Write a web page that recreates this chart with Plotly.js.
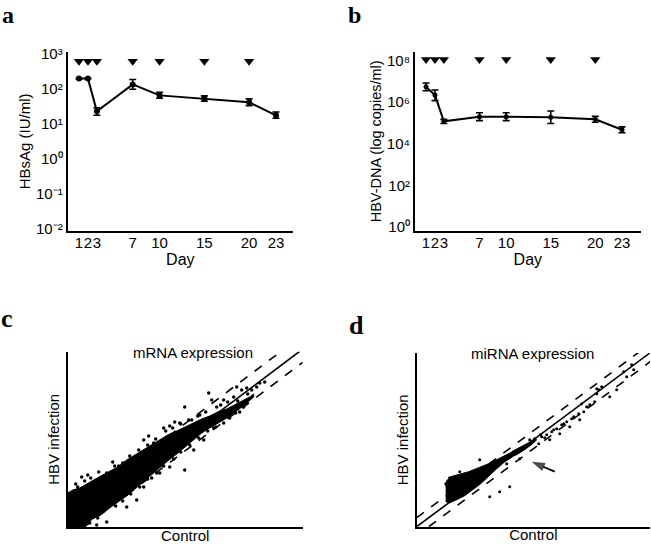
<!DOCTYPE html>
<html>
<head>
<meta charset="utf-8">
<script src="https://cdn.plot.ly/plotly-3.0.1.min.js"></script>
<style>
  html, body { margin: 0; padding: 0; background: #fff; }
  #chart { width: 651px; height: 546px; }
</style>
</head>
<body>
<div id="chart"></div>
<script>
// ---------------- DATA ----------------
const days = [1, 2, 3, 7, 10, 15, 20, 23];
const dayTickLabels = ["1", "2", "3", "7", "10", "15", "20", "23"];

// Panel a: HBsAg (IU/ml)
const hbsag = [190, 190, 22, 130, 63, 51, 40, 17];
const hbsagErrPlus = [0, 0, 6, 50, 14, 10, 10, 4];
const hbsagErrMinus = [0, 0, 5, 36, 11, 8, 8, 3];

// Panel b: HBV-DNA (copies/ml)
const hbvDna = [5.5e6, 2.2e6, 1.2e5, 2.0e5, 2.0e5, 1.9e5, 1.5e5, 4.7e4];
const hbvDnaErrPlus = [3.0e6, 1.7e6, 3.0e4, 1.1e5, 1.1e5, 1.9e5, 5.7e4, 1.8e4];
const hbvDnaErrMinus = [1.9e6, 1.0e6, 2.5e4, 0.7e5, 0.7e5, 0.95e5, 4.2e4, 1.3e4];

// Treatment markers (inverted triangles)
const treatmentDays = [1, 2, 3, 7, 10, 15, 20];
const treatmentLevelA = [600, 600, 600, 600, 600, 600, 600];
const treatmentLevelB = [1.15e8, 1.15e8, 1.15e8, 1.15e8, 1.15e8, 1.15e8, 1.15e8];

// Y tick labels
const tickValsA = [0.01, 0.1, 1, 10, 100, 1000];
const tickTextA = ["10⁻²", "10⁻¹", "10⁰", "10¹", "10²", "10³"];
const tickValsB = [1, 100, 1e4, 1e6, 1e8];
const tickTextB = ["10⁰", "10²", "10⁴", "10⁶", "10⁸"];

// Panel c: mRNA expression (arbitrary units, control vs HBV infection)
const mrnaBandX = [0, 5, 12, 20, 26, 35, 42, 50, 59, 67, 76, 84, 92, 100, 109, 117, 126, 134, 142, 150, 159, 167, 175, 182, 186,
                   186, 178, 172, 165, 159, 150, 142, 134, 126, 117, 109, 100, 92, 84, 76, 67, 59, 50, 42, 34, 25, 18, 15, 0];
const mrnaBandY = [34, 37, 39, 44, 47, 52, 56, 60, 67, 72, 77, 82, 87, 92, 96, 100, 104, 108, 111, 115, 118, 122, 126, 130, 133,
                   130, 123, 118, 113, 109, 104, 99, 94, 87, 80, 73, 66, 59, 52, 45, 38, 31, 25, 19, 13, 8, 3, 0, 0];
const mrnaPointsX = [4, 14, 39, 51, 64, 71, 76, 81, 86, 96, 102, 107, 117, 124, 132, 141, 144, 149, 156, 166, 169, 174, 179, 184, 189, 192, 197,
                     39, 29, 59, 69, 76, 84, 92, 102, 117, 126, 136, 146, 156, 162, 172, 8, 20, 45, 112, 160,
                     10, 17, 23, 31, 47, 55, 62, 80, 88, 98, 105, 113, 121, 130, 138, 153, 170, 180,
                     22, 30, 48, 55, 63, 72, 80, 89, 96, 106, 113, 122, 131, 140, 148, 168, 176];
const mrnaPointsY = [33, 50, 54, 61, 67, 77, 87, 91, 84, 99, 101, 105, 120, 107, 112, 134, 127, 120, 127, 130, 140, 137, 139, 137, 140, 144, 145,
                     5, 2, 20, 27, 40, 49, 54, 60, 57, 77, 87, 99, 104, 109, 115, 43, 52, 65, 104, 125,
                     40, 46, 49, 55, 61, 64, 71, 82, 88, 96, 99, 103, 107, 111, 115, 122, 126, 133,
                     4, 9, 21, 26, 33, 40, 48, 54, 61, 68, 75, 82, 89, 96, 100, 114, 120];
const mrnaSolidX = [0, 232];
const mrnaSolidY = [1, 175.7];
const mrnaUpperX = [0, 212];
const mrnaUpperY = [15, 174.6];
const mrnaLowerX = [16, 235];
const mrnaLowerY = [-0.3, 164.7];

// Panel d: miRNA expression
const mirnaBlobX = [29, 30, 34, 42, 52, 62, 72, 82, 90, 96,
                    96, 88, 80, 72, 64, 56, 48, 40, 33, 29];
const mirnaBlobY = [40, 46, 50, 52, 55, 59, 63, 68, 72, 75,
                    70, 65, 58, 50, 43, 37, 31, 27, 24, 25];
const mirnaStreakX = [95, 102, 110, 116, 120, 116, 108, 100, 95];
const mirnaStreakY = [75, 79, 83, 86, 87, 83, 77, 72, 70];
const mirnaPointsX = [33, 29, 63, 43, 77, 93, 83, 73, 103, 90, 110, 113, 118, 122, 125, 130, 133, 135, 140, 143, 145, 150, 153, 157, 162, 163,
                      167, 173, 178, 180, 182, 185, 193, 200, 207, 210, 217, 165, 180, 215, 124, 128, 137, 147, 155, 170];
const mirnaPointsY = [49, 43, 67, 55, 60, 40, 35, 30, 68, 63, 80, 87, 88, 83, 90, 92, 87, 95, 98, 93, 102, 105, 100, 110, 113, 107,
                      115, 122, 125, 133, 137, 140, 130, 137, 155, 150, 157, 123, 138, 162, 92, 89, 97, 103, 108, 120];
const mirnaSolidX = [0, 233];
const mirnaSolidY = [0, 173.6];
const mirnaUpperX = [0, 222];
const mirnaUpperY = [9, 174.4];
const mirnaLowerX = [12, 235];
const mirnaLowerY = [0, 166.1];
const arrowX = [138, 115];
const arrowY = [55, 65];

// ---------------- LAYOUT HELPERS ----------------
const W = 651, H = 546;
const dx = (a, b) => [a / W, b / W];
const dy = (top, bottom) => [1 - bottom / H, 1 - top / H];

const sans = "Liberation Sans, Arial, sans-serif";
const serif = "Liberation Serif, Times New Roman, serif";
const black = "#000";

function lineTrace(x, y, xa, ya, dash) {
  return { x: x, y: y, xaxis: xa, yaxis: ya, mode: "lines", type: "scatter",
           line: { color: black, width: 1.6, dash: dash || "solid" }, hoverinfo: "skip", showlegend: false };
}
function fillTrace(x, y, xa, ya) {
  return { x: x, y: y, xaxis: xa, yaxis: ya, type: "scatter", mode: "lines",
           fill: "toself", fillcolor: black, line: { color: black, width: 1 }, showlegend: false, hoverinfo: "skip" };
}

const traces = [
  // Panel a
  { x: days, y: hbsag, xaxis: "x", yaxis: "y", type: "scatter", mode: "lines+markers",
    line: { color: black, width: 2 }, marker: { color: black, size: 6, symbol: "circle" },
    error_y: { type: "data", symmetric: false, array: hbsagErrPlus, arrayminus: hbsagErrMinus,
               color: black, thickness: 1.6, width: 3.5 }, showlegend: false },
  { x: treatmentDays, y: treatmentLevelA, xaxis: "x", yaxis: "y", type: "scatter", mode: "markers",
    marker: { color: black, size: 9, symbol: "triangle-down" }, showlegend: false },
  // Panel b
  { x: days, y: hbvDna, xaxis: "x2", yaxis: "y2", type: "scatter", mode: "lines+markers",
    line: { color: black, width: 2 }, marker: { color: black, size: 5, symbol: "circle" },
    error_y: { type: "data", symmetric: false, array: hbvDnaErrPlus, arrayminus: hbvDnaErrMinus,
               color: black, thickness: 1.6, width: 3.5 }, showlegend: false },
  { x: treatmentDays, y: treatmentLevelB, xaxis: "x2", yaxis: "y2", type: "scatter", mode: "markers",
    marker: { color: black, size: 9, symbol: "triangle-down" }, showlegend: false },
  // Panel c
  fillTrace(mrnaBandX, mrnaBandY, "x3", "y3"),
  { x: mrnaPointsX, y: mrnaPointsY, xaxis: "x3", yaxis: "y3", type: "scatter", mode: "markers",
    marker: { color: black, size: 3.5 }, showlegend: false },
  lineTrace(mrnaSolidX, mrnaSolidY, "x3", "y3"),
  lineTrace(mrnaUpperX, mrnaUpperY, "x3", "y3", "dash"),
  lineTrace(mrnaLowerX, mrnaLowerY, "x3", "y3", "dash"),
  // Panel d
  fillTrace(mirnaBlobX, mirnaBlobY, "x4", "y4"),
  fillTrace(mirnaStreakX, mirnaStreakY, "x4", "y4"),
  { x: mirnaPointsX, y: mirnaPointsY, xaxis: "x4", yaxis: "y4", type: "scatter", mode: "markers",
    marker: { color: black, size: 3 }, showlegend: false },
  lineTrace(mirnaSolidX, mirnaSolidY, "x4", "y4"),
  lineTrace(mirnaUpperX, mirnaUpperY, "x4", "y4", "dash"),
  lineTrace(mirnaLowerX, mirnaLowerY, "x4", "y4", "dash"),
  // Arrow in panel d
  { x: arrowX, y: arrowY, xaxis: "x4", yaxis: "y4", type: "scatter", mode: "lines+markers",
    line: { color: black, width: 1.8 },
    marker: { color: black, size: [0, 14], symbol: "arrow", angleref: "previous", line: { width: 0 } },
    showlegend: false, hoverinfo: "skip" }
];

const baseAxis = {
  showline: true, linecolor: black, linewidth: 2, showgrid: false, zeroline: false,
  ticks: "", ticklen: 0, automargin: false, mirror: false
};

function xDayAxis(domain, anchor, range) {
  return Object.assign({}, baseAxis, {
    domain: domain, anchor: anchor, range: range,
    tickmode: "array", tickvals: days, ticktext: dayTickLabels, tickangle: 0,
    ticklabelstandoff: -3,
    tickfont: { family: sans, size: 15, color: black },
    title: { text: "Day", font: { family: sans, size: 16, color: black }, standoff: 0 }
  });
}

function yLogAxis(domain, anchor, range, vals, text, title, tsize) {
  return Object.assign({}, baseAxis, {
    domain: domain, anchor: anchor, type: "log", range: range,
    tickmode: "array", tickvals: vals, ticktext: text, tickangle: 0,
    tickfont: { family: sans, size: 15, color: black },
    title: { text: title, font: { family: sans, size: tsize, color: black }, standoff: 2 }
  });
}

function plainAxis(domain, anchor, range, title) {
  return Object.assign({}, baseAxis, {
    domain: domain, anchor: anchor, range: range, showticklabels: false,
    title: { text: title, font: { family: sans, size: 15, color: black }, standoff: 2 }
  });
}

const layout = {
  width: W, height: H,
  margin: { l: 0, r: 0, t: 0, b: 0 },
  paper_bgcolor: "#fff", plot_bgcolor: "#fff",
  showlegend: false,
  xaxis: xDayAxis(dx(67.7, 293), "y", [-0.26, 24.9]),
  yaxis: yLogAxis(dy(52, 230.7), "x", [-2.07, 3.04], tickValsA, tickTextA, "HBsAg (IU/ml)", 15),
  xaxis2: xDayAxis(dx(415, 640.7), "y2", [-0.24, 25.1]),
  yaxis2: yLogAxis(dy(52, 230.7), "x2", [-0.19, 8.42], tickValsB, tickTextB, "HBV-DNA (log copies/ml)", 14.5),
  xaxis3: plainAxis(dx(67.7, 302.7), "y3", [0, 235], "Control"),
  yaxis3: plainAxis(dy(351.7, 527), "x3", [0, 175.3], "HBV infection"),
  xaxis4: plainAxis(dx(416.7, 650), "y4", [0, 233.3], "Control"),
  yaxis4: plainAxis(dy(353, 526.7), "x4", [0, 173.7], "HBV infection"),
  annotations: [
    { text: "<b>a</b>", xref: "paper", yref: "paper", x: 7.5 / W, y: 1 - 14.5 / H, xanchor: "center", yanchor: "middle",
      showarrow: false, font: { family: serif, size: 24, color: black } },
    { text: "<b>b</b>", xref: "paper", yref: "paper", x: 354 / W, y: 1 - 14.5 / H, xanchor: "center", yanchor: "middle",
      showarrow: false, font: { family: serif, size: 24, color: black } },
    { text: "<b>c</b>", xref: "paper", yref: "paper", x: 7 / W, y: 1 - 318 / H, xanchor: "center", yanchor: "middle",
      showarrow: false, font: { family: serif, size: 26, color: black } },
    { text: "<b>d</b>", xref: "paper", yref: "paper", x: 356 / W, y: 1 - 325 / H, xanchor: "center", yanchor: "middle",
      showarrow: false, font: { family: serif, size: 26, color: black } },
    { text: "mRNA expression", xref: "paper", yref: "paper", x: 192.5 / W, y: 1 - 352 / H, xanchor: "center", yanchor: "middle",
      showarrow: false, font: { family: sans, size: 15, color: black } },
    { text: "miRNA expression", xref: "paper", yref: "paper", x: 532 / W, y: 1 - 353 / H, xanchor: "center", yanchor: "middle",
      showarrow: false, font: { family: sans, size: 15, color: black } }
  ]
};

Plotly.newPlot("chart", traces, layout, { staticPlot: true, displayModeBar: false });
</script>
</body>
</html>
